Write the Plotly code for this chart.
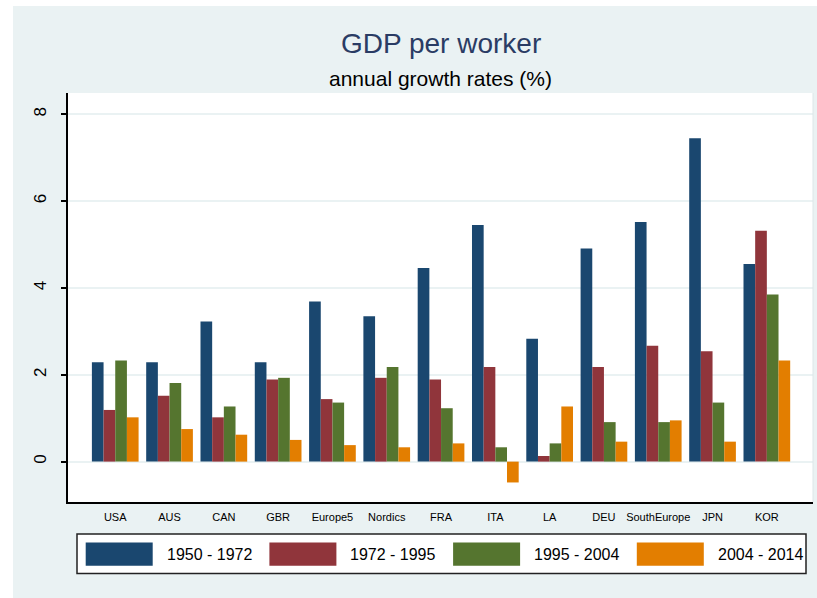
import plotly.graph_objects as go

categories = ["USA", "AUS", "CAN", "GBR", "Europe5", "Nordics", "FRA", "ITA", "LA",
              "DEU", "SouthEurope", "JPN", "KOR"]
periods = ["1950 - 1972", "1972 - 1995", "1995 - 2004", "2004 - 2014"]
g1950_1972 = [2.29, 2.29, 3.23, 2.29, 3.69, 3.35, 4.46, 5.45, 2.83, 4.91, 5.52, 7.45, 4.55]
g1972_1995 = [1.19, 1.52, 1.02, 1.89, 1.44, 1.93, 1.89, 2.18, 0.13, 2.18, 2.67, 2.54, 5.32]
g1995_2004 = [2.33, 1.81, 1.27, 1.93, 1.36, 2.18, 1.23, 0.33, 0.42, 0.91, 0.91, 1.36, 3.85]
g2004_2014 = [1.02, 0.75, 0.62, 0.50, 0.38, 0.33, 0.42, -0.48, 1.27, 0.46, 0.95, 0.46, 2.33]
series = [g1950_1972, g1972_1995, g1995_2004, g2004_2014]
colors = ["#1A476F", "#90353B", "#55752F", "#E37E00"]
y_ticks = [0, 2, 4, 6, 8]

W, H = 817, 598
L, R, T, B = 68, 813, 93, 502  # plot area in pixels

def px_x(p):
    return (p - L) / (R - L)

def px_y(p):
    return (B - p) / (B - T)

FONT = "Liberation Sans, Arial, sans-serif"

fig = go.Figure()
for name, vals, col in zip(periods, series, colors):
    fig.add_trace(go.Bar(x=categories, y=vals, name=name, marker_color=col,
                         marker_line_width=0, showlegend=False))

shapes = []
annotations = []

# white outer margins (top and left)
shapes.append(dict(type="rect", xref="paper", yref="paper", x0=px_x(0), x1=px_x(W),
                   y0=px_y(6), y1=px_y(0), fillcolor="white", line_width=0, layer="below"))
shapes.append(dict(type="rect", xref="paper", yref="paper", x0=px_x(0), x1=px_x(13),
                   y0=px_y(H), y1=px_y(0), fillcolor="white", line_width=0, layer="below"))
# faint right edge of plot region
shapes.append(dict(type="line", xref="paper", yref="paper", x0=1, x1=1, y0=0, y1=1,
                   line=dict(color="#DDE6E8", width=1)))

# custom legend box
shapes.append(dict(type="rect", xref="paper", yref="paper", x0=px_x(77), x1=px_x(806),
                   y0=px_y(573.5), y1=px_y(534), fillcolor="white",
                   line=dict(color="#222222", width=1.5)))
for i, (name, col) in enumerate(zip(periods, colors)):
    sx = 85.7 + i * 183.7
    shapes.append(dict(type="rect", xref="paper", yref="paper", x0=px_x(sx), x1=px_x(sx + 67),
                       y0=px_y(565.7), y1=px_y(542.5), fillcolor=col, line_width=0))
    annotations.append(dict(text=name, xref="paper", yref="paper", x=px_x(sx + 79),
                            y=px_y(554), xanchor="left", yanchor="middle", showarrow=False,
                            font=dict(family=FONT, size=16, color="black")))

# title and subtitle
annotations.append(dict(text="GDP per worker", xref="paper", yref="paper", x=0.5,
                        y=px_y(43), xanchor="center", yanchor="middle", showarrow=False,
                        font=dict(family=FONT, size=28, color="#2A3C64")))
annotations.append(dict(text="annual growth rates (%)", xref="paper", yref="paper", x=0.5,
                        y=px_y(78), xanchor="center", yanchor="middle", showarrow=False,
                        font=dict(family=FONT, size=21, color="black")))

fig.update_layout(
    width=W, height=H,
    margin=dict(l=L, r=W - R, t=T, b=H - B, pad=0),
    paper_bgcolor="#EAF2F3",
    plot_bgcolor="white",
    barmode="group",
    bargap=0.14,
    bargroupgap=0,
    showlegend=False,
    shapes=shapes,
    annotations=annotations,
    font=dict(family=FONT, color="black"),
)
fig.update_xaxes(type="category", range=[-0.87, 12.85], showline=True, linecolor="black",
                 linewidth=2, ticks="", tickangle=0, showgrid=False, ticklabelstandoff=4,
                 tickfont=dict(family=FONT, size=11, color="black"))
fig.update_yaxes(range=[-0.93, 8.49], tickvals=y_ticks, ticktext=[str(v) for v in y_ticks],
                 showline=True, linecolor="black", linewidth=2, ticks="outside", ticklen=5,
                 tickcolor="black", tickwidth=1.5, tickangle=-90, zeroline=False,
                 ticklabelstandoff=8,
                 showgrid=True, gridcolor="#EAF2F3", gridwidth=2,
                 tickfont=dict(family=FONT, size=17, color="black"))

fig.write_html("out.html", config={"displayModeBar": False},
               post_script="document.body.style.margin='0px';")
